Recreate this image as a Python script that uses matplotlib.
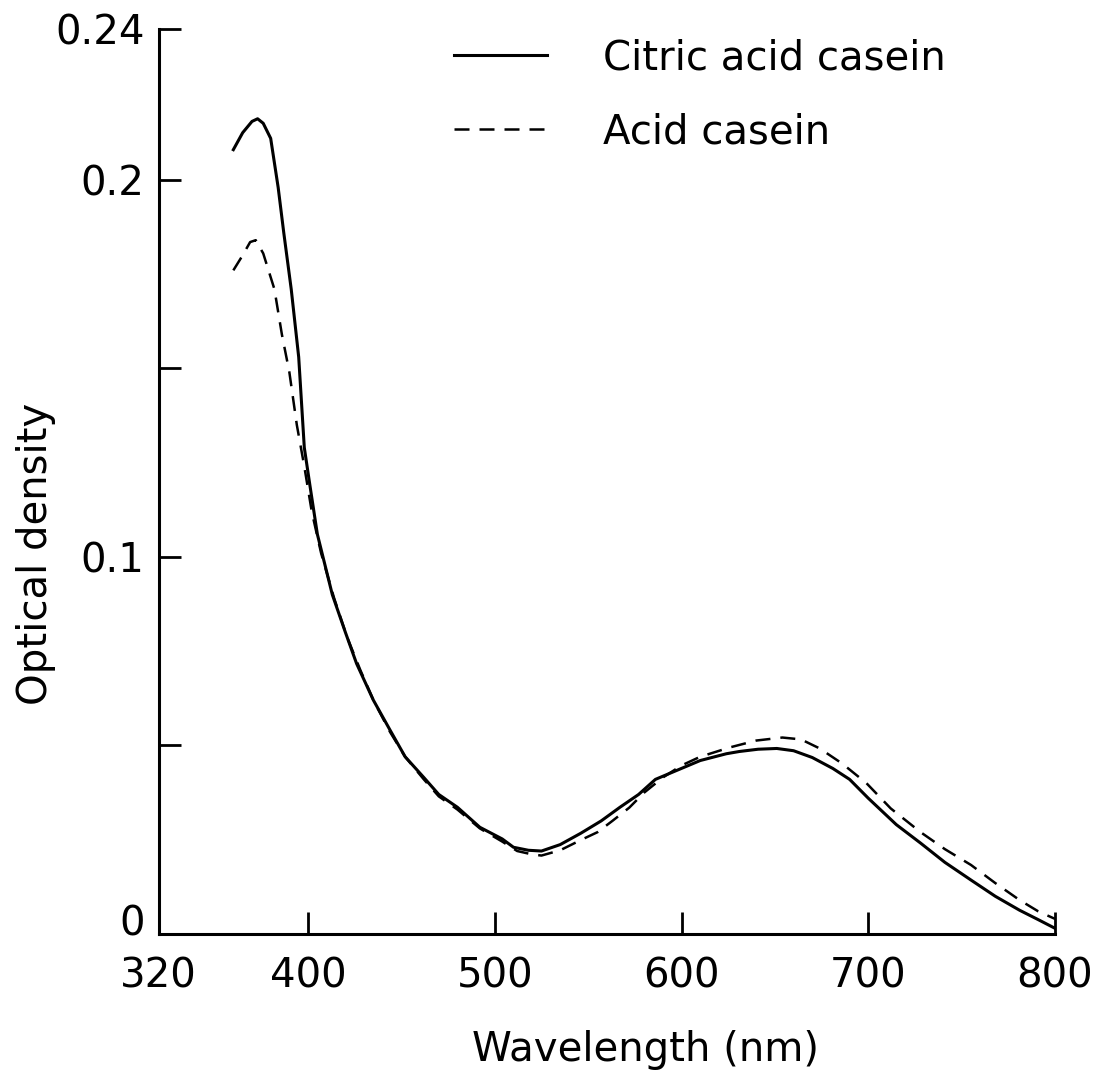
import matplotlib.pyplot as plt
from matplotlib.transforms import ScaledTranslation

# wavelength (nm) and optical density
wl_citric = [360, 365, 370, 373, 376, 380, 384, 387, 391, 395, 398, 401, 405,
             413, 420, 426, 435, 444, 452, 462, 470, 480, 492, 504, 510, 518,
             525, 535, 546, 557, 567, 577, 586, 598, 610, 624, 631, 641, 651,
             660, 670, 681, 690, 700, 715, 728, 741, 755, 768, 781, 791, 800]
od_citric = [0.208, 0.2125, 0.2155, 0.2162, 0.215, 0.211, 0.198, 0.186, 0.171,
             0.153, 0.129, 0.119, 0.106, 0.090, 0.080, 0.0717, 0.062, 0.054,
             0.047, 0.0415, 0.037, 0.0336, 0.0283, 0.0252, 0.023, 0.0222,
             0.0220, 0.0237, 0.0267, 0.030, 0.0336, 0.037, 0.041, 0.0435,
             0.046, 0.0478, 0.0484, 0.049, 0.0492, 0.0486, 0.0468, 0.0439,
             0.041, 0.036, 0.029, 0.0241, 0.019, 0.0143, 0.010, 0.0063,
             0.0038, 0.0015]

wl_acid = [360, 365, 369, 372, 376, 382, 386, 390, 394, 398, 402, 407, 414,
           421, 428, 435, 444, 452, 462, 470, 480, 492, 504, 512, 520, 525,
           535, 546, 555, 563, 572, 580, 590, 600, 610, 626, 640, 654, 664,
           674, 686, 699, 712, 728, 741, 755, 768, 781, 791, 800]
od_acid = [0.176, 0.180, 0.1835, 0.184, 0.1805, 0.171, 0.159, 0.149, 0.135,
           0.124, 0.112, 0.101, 0.089, 0.0786, 0.070, 0.062, 0.0535, 0.047,
           0.041, 0.0365, 0.033, 0.028, 0.0245, 0.022, 0.0211, 0.0208,
           0.0222, 0.0249, 0.027, 0.030, 0.0335, 0.0375, 0.0415, 0.0447,
           0.047, 0.0495, 0.0513, 0.0521, 0.0516, 0.0492, 0.0452, 0.040,
           0.0333, 0.027, 0.0225, 0.0183, 0.0135, 0.009, 0.006, 0.004]

x_ticks = [320, 400, 500, 600, 700, 800]
y_ticks = [0, 0.05, 0.1, 0.15, 0.2, 0.24]
y_tick_labels = ["0", "", "0.1", "", "0.2", "0.24"]

plt.rcParams['font.family'] = ['DejaVu Sans']

fig = plt.figure(figsize=(10.94, 10.79), dpi=100)
ax = fig.add_axes([0.145, 0.1344, 0.8194, 0.8387])

ax.plot(wl_citric, od_citric, color="black", lw=2.2, label="Citric acid casein",
        solid_joinstyle="round")
ax.plot(wl_acid, od_acid, color="black", lw=1.8, dashes=(6, 4), label="Acid casein")

ax.set_xlim(320, 800)
ax.set_ylim(0, 0.24)
ax.set_xticks(x_ticks)
ax.set_xticklabels([str(t) for t in x_ticks])
ax.set_yticks(y_ticks)
ax.set_yticklabels(y_tick_labels)

for s in ["top", "right"]:
    ax.spines[s].set_visible(False)
for s in ["left", "bottom"]:
    ax.spines[s].set_linewidth(2.2)

ax.tick_params(axis="both", direction="in", length=16, width=2, labelsize=29)
ax.tick_params(axis="x", pad=16)
ax.tick_params(axis="y", pad=10)

# the "0" on the y axis sits a little above the corner, clear of "320"
zero_lbl = ax.get_yticklabels()[0]
zero_lbl.set_transform(zero_lbl.get_transform() +
                       ScaledTranslation(0, 10 / 72, fig.dpi_scale_trans))

ax.set_xlabel("Wavelength (nm)", fontsize=29, va="center")
ax.set_ylabel("Optical density", fontsize=29, va="center")
ax.xaxis.set_label_coords(0.543, -0.128)
ax.yaxis.set_label_coords(-0.137, 0.42)

ax.legend(loc="upper left", bbox_to_anchor=(0.33, 0.99), frameon=False,
          fontsize=29, handlelength=2.3, handletextpad=1.4, labelspacing=0.85,
          borderpad=0, borderaxespad=0)

fig.savefig("out.png", dpi=100)
